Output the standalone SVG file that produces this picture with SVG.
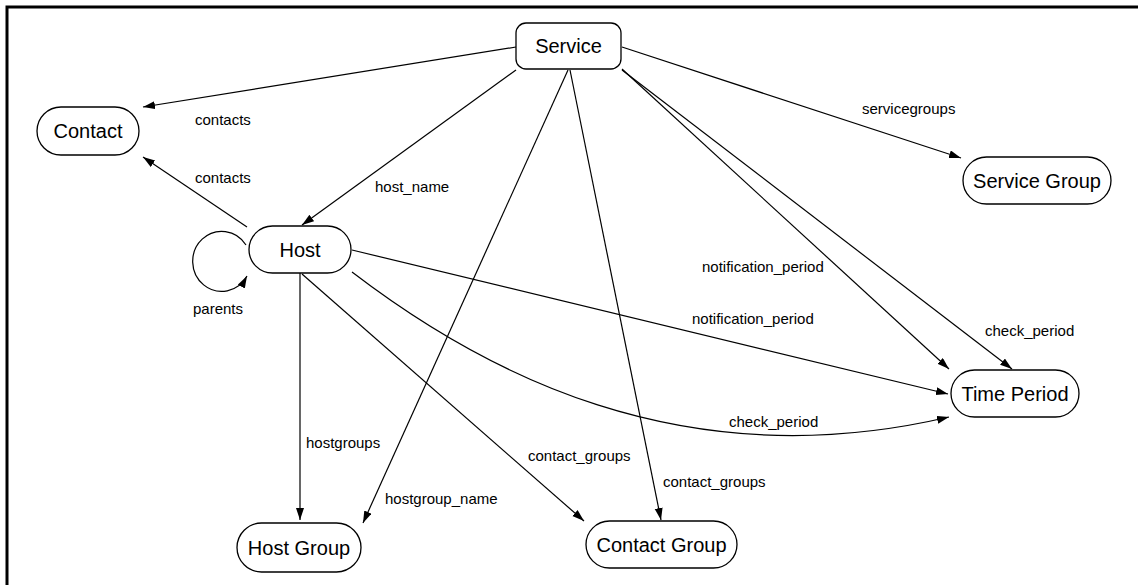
<svg xmlns="http://www.w3.org/2000/svg" width="1138" height="585" viewBox="0 0 1138 585">
  <style>
    .node { fill: #ffffff; stroke: #000000; stroke-width: 1.3; }
    .ntext { font-family: "Liberation Sans", Arial, Helvetica, sans-serif; font-size: 20px; fill: #000000; text-anchor: middle; }
    .edge { fill: none; stroke: #000000; stroke-width: 1.2; marker-end: url(#arrow); }
    .elabel { font-family: "Liberation Sans", Arial, Helvetica, sans-serif; font-size: 15px; fill: #000000; }
    .frame { stroke: #000000; stroke-width: 3; fill: none; }
  </style>
  <defs>
    <marker id="arrow" markerUnits="userSpaceOnUse" markerWidth="13" markerHeight="9" refX="12" refY="4" orient="auto">
      <path d="M0,0 L12,4 L0,8 Z" fill="#000000"/>
    </marker>
  </defs>

  <rect x="0" y="0" width="1138" height="585" fill="#ffffff"/>
  <!-- page frame (top and left edges) -->
  <path class="frame" d="M7,585 L7,7 L1138,7"/>

  <!-- connectors -->
  <g id="connectors">
    <path class="edge" d="M516,47 L143,107"/>
    <path class="edge" d="M247,227 L143,157"/>
    <path class="edge" d="M516,70 L302,225"/>
    <path class="edge" d="M246,245 A29,30 0 1 0 247,276"/>
    <path class="edge" d="M300,273 L300,520"/>
    <path class="edge" d="M568,70 L363,523"/>
    <path class="edge" d="M302,274 L584,521"/>
    <path class="edge" d="M570,70 L661,520"/>
    <path class="edge" d="M352,250 L948,394"/>
    <path class="edge" d="M352,272 C480,370 680,480 949,417"/>
    <path class="edge" d="M622,69 L949,369"/>
    <path class="edge" d="M622,70 L1012,369"/>
    <path class="edge" d="M622,47 L961,158"/>

    <text class="elabel" x="195" y="125">contacts</text>
    <text class="elabel" x="195" y="183">contacts</text>
    <text class="elabel" x="375" y="192">host_name</text>
    <text class="elabel" x="193" y="314">parents</text>
    <text class="elabel" x="306" y="448">hostgroups</text>
    <text class="elabel" x="385" y="504">hostgroup_name</text>
    <text class="elabel" x="528" y="461">contact_groups</text>
    <text class="elabel" x="663" y="487">contact_groups</text>
    <text class="elabel" x="692" y="324">notification_period</text>
    <text class="elabel" x="729" y="427">check_period</text>
    <text class="elabel" x="702" y="272">notification_period</text>
    <text class="elabel" x="985" y="336">check_period</text>
    <text class="elabel" x="862" y="114">servicegroups</text>
  </g>

  <!-- nodes -->
  <g id="service">
    <rect class="node" x="516" y="23" width="105" height="46" rx="10" ry="10"/>
    <text class="ntext" x="568.5" y="53">Service</text>
  </g>
  <g id="contact">
    <rect class="node" x="37" y="107" width="102" height="48" rx="24" ry="24"/>
    <text class="ntext" x="88" y="138">Contact</text>
  </g>
  <g id="host">
    <rect class="node" x="249" y="226" width="102" height="47" rx="23.5" ry="23.5"/>
    <text class="ntext" x="300" y="256.5">Host</text>
  </g>
  <g id="service-group">
    <rect class="node" x="963" y="157" width="148" height="47" rx="23.5" ry="23.5"/>
    <text class="ntext" x="1037" y="187.5">Service Group</text>
  </g>
  <g id="time-period">
    <rect class="node" x="951" y="370" width="128" height="47" rx="23.5" ry="23.5"/>
    <text class="ntext" x="1015" y="400.5">Time Period</text>
  </g>
  <g id="host-group">
    <rect class="node" x="237" y="523" width="124" height="49" rx="24.5" ry="24.5"/>
    <text class="ntext" x="299" y="555">Host Group</text>
  </g>
  <g id="contact-group">
    <rect class="node" x="586" y="521" width="151" height="47" rx="23.5" ry="23.5"/>
    <text class="ntext" x="661.5" y="551.5">Contact Group</text>
  </g>
</svg>
